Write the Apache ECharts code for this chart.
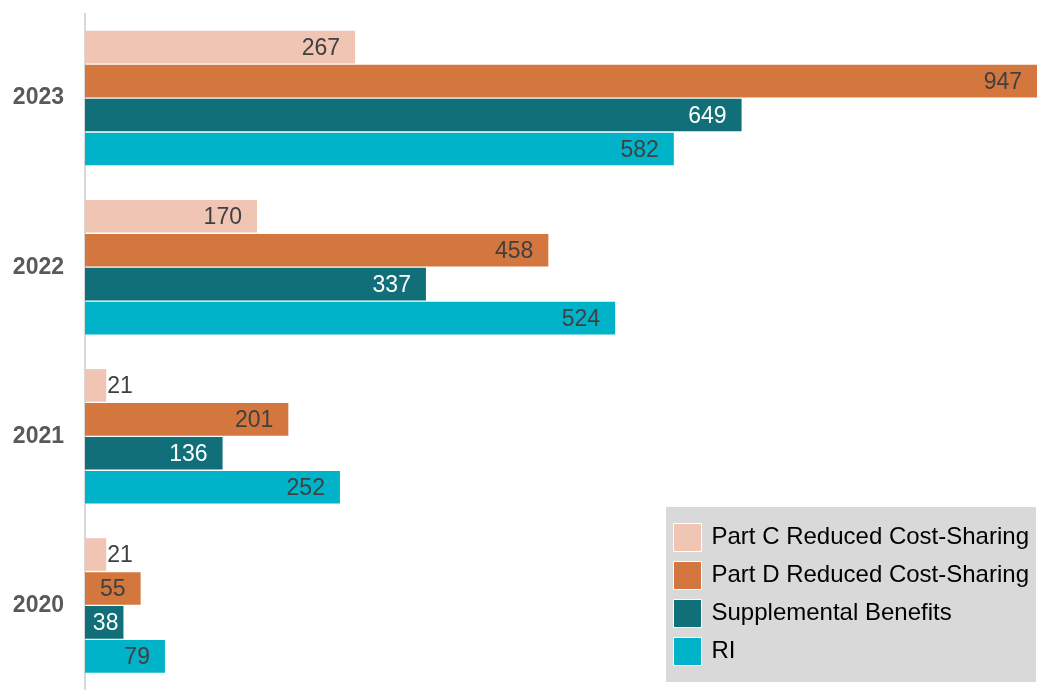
<!DOCTYPE html>
<html>
<head>
<meta charset="utf-8">
<script src="https://cdn.jsdelivr.net/npm/echarts@6/dist/echarts.min.js"></script>
<style>
  html, body { margin: 0; padding: 0; background: #fff; }
  #chart { width: 1037px; height: 690px; }
</style>
</head>
<body>
<div id="chart"></div>
<script>
// Categories (top to bottom) and series values
const years = ['2023', '2022', '2021', '2020'];
const partC = [267, 170, 21, 21];
const partD = [947, 458, 201, 55];
const supplemental = [649, 337, 136, 38];
const ri = [582, 524, 252, 79];

const seriesNames = ['Part C Reduced Cost-Sharing', 'Part D Reduced Cost-Sharing', 'Supplemental Benefits', 'RI'];
const seriesColors = ['#f0c5b3', '#d4773f', '#106f79', '#00b3c9'];
const labelColors = ['#404040', '#404040', '#ffffff', '#404040'];
const seriesData = [partC, partD, supplemental, ri];

const FONT = "'Liberation Sans', Arial, sans-serif";

function makeSeries(idx) {
  return {
    name: seriesNames[idx],
    type: 'bar',
    barGap: '4%',
    barCategoryGap: '20.5%',
    clip: true,
    itemStyle: { color: seriesColors[idx] },
    label: {
      show: true,
      position: 'insideRight',
      distance: 15,
      offset: [0, 1.5],
      color: labelColors[idx],
      fontFamily: FONT,
      fontSize: 23
    },
    data: seriesData[idx].map(v => {
      // very short bars carry their label just outside the end
      if (v < 30) {
        return { value: v, label: { position: 'right', distance: 1, color: '#404040' } };
      }
      if (v < 45) {
        return { value: v, label: { distance: 5 } };
      }
      return v;
    })
  };
}

const chart = echarts.init(document.getElementById('chart'));
chart.setOption({
  animation: false,
  backgroundColor: '#ffffff',
  grid: { left: 85, right: 0, top: 13.5, bottom: -3.5, containLabel: false },
  xAxis: {
    type: 'value',
    min: 0,
    max: 941,
    show: false
  },
  yAxis: {
    type: 'category',
    data: years,
    inverse: true,
    axisLine: { show: true, lineStyle: { color: '#d9d9d9', width: 2 } },
    axisTick: { show: false },
    axisLabel: {
      color: '#595959',
      fontFamily: FONT,
      fontWeight: 'bold',
      fontSize: 23,
      margin: 21,
      padding: [3, 0, 0, 0]
    }
  },
  legend: {
    orient: 'vertical',
    left: 666,
    top: 507,
    backgroundColor: '#d9d9d9',
    padding: [16, 7, 16, 7],
    itemWidth: 28,
    itemHeight: 28,
    itemGap: 9,
    icon: 'rect',
    itemStyle: { borderColor: '#ffffff', borderWidth: 1 },
    textStyle: { color: '#000000', fontFamily: FONT, fontSize: 24, padding: [0, 0, 0, 5] },
    data: seriesNames
  },
  series: [0, 1, 2, 3].map(makeSeries)
});
</script>
</body>
</html>
